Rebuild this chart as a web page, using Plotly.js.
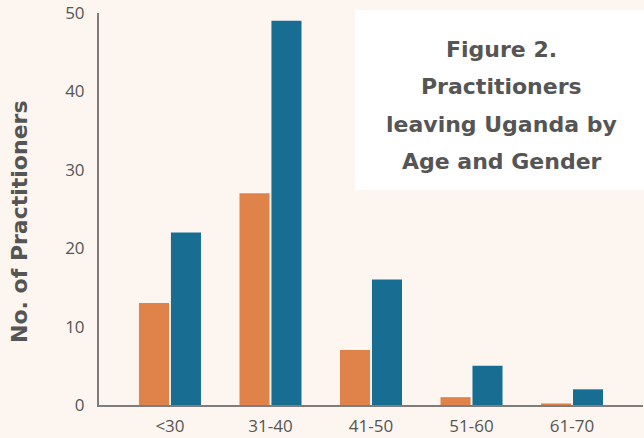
<!DOCTYPE html>
<html>
<head>
<meta charset="utf-8">
<script src="https://cdn.plot.ly/plotly-3.0.1.min.js"></script>
<style>html,body{margin:0;padding:0;background:#fdf6f0;}</style>
</head>
<body>
<div id="chart" style="width:644px;height:438px;"></div>
<script>
const categories = ["<30", "31-40", "41-50", "51-60", "61-70"];
const female = [13, 27, 7, 1, 0.2];
const male = [22, 49, 16, 5, 2];
const titleLines = ["Figure 2.", "Practitioners", "leaving Uganda by", "Age and Gender"];
const yTitle = "No. of Practitioners";
const yTicks = [0, 10, 20, 30, 40, 50];

const traces = [
  {type: "bar", x: categories, y: female, name: "Female", marker: {color: "#e0834a"}, hoverinfo: "x+y"},
  {type: "bar", x: categories, y: male, name: "Male", marker: {color: "#186e92"}, hoverinfo: "x+y"}
];

const annotations = titleLines.map((t, i) => ({
  xref: "paper", yref: "paper", x: 0.74, y: 1 - (37 + 37 * i) / 392,
  text: t, showarrow: false, xanchor: "center", yanchor: "middle",
  font: {family: "DejaVu Sans", size: 22, color: "#555555", weight: 700}
}));
annotations.push({
  xref: "paper", yref: "paper", x: (19 - 99) / 544, y: 1 - (222 - 13) / 392,
  text: yTitle, textangle: -90, showarrow: false, xanchor: "center", yanchor: "middle",
  font: {family: "DejaVu Sans", size: 22, color: "#555555", weight: 700}
});

const layout = {
  width: 644, height: 438,
  margin: {l: 99, r: 1, t: 13, b: 33, pad: 0},
  paper_bgcolor: "#fdf6f0", plot_bgcolor: "#fdf6f0",
  showlegend: false,
  barmode: "group", bargap: 0.364, bargroupgap: 0.06,
  font: {family: "Open Sans", color: "#555555"},
  xaxis: {
    type: "category", range: [-0.706, 4.706],
    showgrid: false, zeroline: false,
    showline: true, linecolor: "#7d7d7d", linewidth: 2,
    ticks: "", ticklabelstandoff: 5,
    tickfont: {family: "Open Sans", size: 17, color: "#555555"}
  },
  yaxis: {
    range: [0, 50], tickvals: yTicks,
    showgrid: false, zeroline: false,
    showline: true, linecolor: "#7d7d7d", linewidth: 2,
    ticks: "", ticklabelstandoff: 9,
    tickfont: {family: "Open Sans", size: 17, color: "#555555"}
  },
  shapes: [{
    type: "rect", xref: "paper", yref: "paper", layer: "below",
    x0: 256 / 544, x1: 1.01, y0: 1 - 177 / 392, y1: 1 + 3 / 392,
    fillcolor: "#ffffff", line: {width: 0}
  }],
  annotations: annotations
};

Plotly.newPlot("chart", traces, layout, {displayModeBar: false, staticPlot: true});
</script>
</body>
</html>
